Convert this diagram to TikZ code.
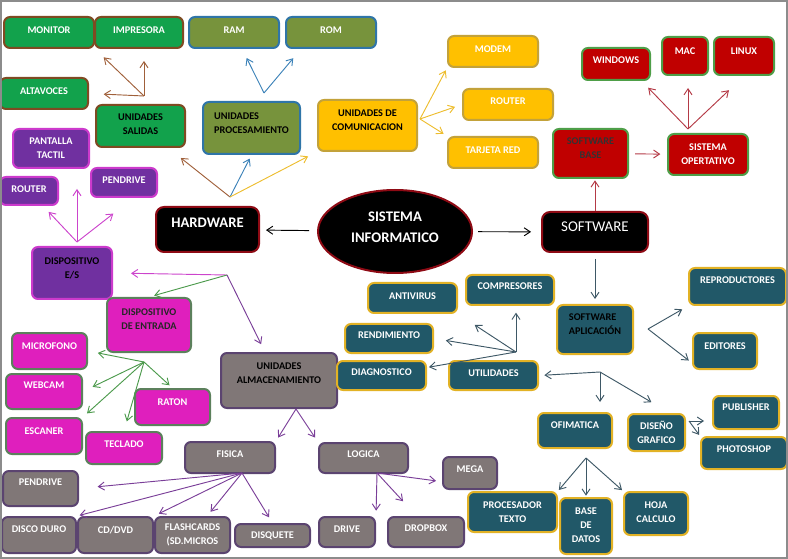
\documentclass[tikz,border=0pt]{standalone}
\usepackage{fontspec}
\setmainfont{Carlito}
\usetikzlibrary{arrows.meta,shapes.geometric}
% box fills and borders
\definecolor{mGreen}{HTML}{12A24C}
\definecolor{mBrown}{HTML}{7F4A22}
\definecolor{mOlive}{HTML}{77933C}
\definecolor{mSteel}{HTML}{2F75A8}
\definecolor{mGold}{HTML}{FFC000}
\definecolor{mGoldBd}{HTML}{C3A23A}
\definecolor{mRed}{HTML}{C00000}
\definecolor{mLeaf}{HTML}{4E9E48}
\definecolor{mWine}{HTML}{8E0A14}
\definecolor{mPurple}{HTML}{7030A0}
\definecolor{mOrchid}{HTML}{CC3ACC}
\definecolor{mPink}{HTML}{DF1FBD}
\definecolor{mSage}{HTML}{5C805C}
\definecolor{mTeal}{HTML}{215868}
\definecolor{mAmber}{HTML}{E2B225}
\definecolor{mStone}{HTML}{807777}
\definecolor{mPlum}{HTML}{5B4470}
\definecolor{mFrame}{HTML}{8C8C8C}
% connector colours
\definecolor{aBrown}{HTML}{A0603A}
\definecolor{aBlue}{HTML}{3C82B8}
\definecolor{aYellow}{HTML}{EDBD2E}
\definecolor{aRed}{HTML}{B43A46}
\definecolor{aSlate}{HTML}{3E5866}
\definecolor{aOrchid}{HTML}{CC44CC}
\definecolor{aGreen}{HTML}{4C9A4C}
\definecolor{aPurple}{HTML}{7A3E98}

\begin{document}
\begin{tikzpicture}[x=0.75pt,y=-0.75pt,>={Straight Barb[length=4.5pt,width=6pt]},
  box/.style={draw, rounded corners=4.5pt, line width=1.5pt, inner sep=0pt, align=center,
              font=\bfseries\fontsize{7.7}{10.5}\selectfont, text=white},
  sz/.style 2 args={minimum width=#1*0.75pt, minimum height=#2*0.75pt},
  lift/.style={text depth=#1},
  outbox/.style={box, fill=mGreen, draw=mBrown},
  cpubox/.style={box, fill=mOlive, draw=mSteel},
  netbox/.style={box, fill=mGold, draw=mGoldBd},
  osbox/.style={box, fill=mRed, draw=mLeaf},
  iobox/.style={box, fill=mPurple, draw=mOrchid},
  inbox/.style={box, fill=mPink, draw=mSage},
  storebox/.style={box, fill=mStone, draw=mPlum},
  appbox/.style={box, fill=mTeal, draw=mAmber},
  mainbox/.style={box, fill=black, draw=mWine, rounded corners=6pt},
  arr/.style={->, line width=0.7pt}]
  \useasboundingbox (0,0) rectangle (788,559);

  % centre
  \node[ellipse, draw=mWine, fill=black, line width=1.5pt, sz={154}{83}, inner sep=0pt,
        align=center, text=white, font=\bfseries\fontsize{11}{16}\selectfont,
        text depth=6.75pt] (sistema) at (395,231.5) {SISTEMA\\INFORMATICO};
  \node[mainbox, sz={103}{45}, lift=9.75pt, font=\bfseries\fontsize{11}{13}\selectfont]
        (hardware) at (207.5,229.5) {HARDWARE};
  \node[mainbox, sz={106}{40}, lift=7.5pt, font=\fontsize{11.2}{13}\selectfont]
        (software) at (595,232) {SOFTWARE};

  % output units
  \node[outbox, sz={90}{31}, lift=3.75pt] (monitor) at (49,32.5) {MONITOR};
  \node[outbox, sz={88}{31}, lift=3.75pt] (impresora) at (139,32.5) {IMPRESORA};
  \node[outbox, sz={88}{31}, lift=3.75pt] (altavoces) at (44,93.5) {ALTAVOCES};
  \node[outbox, sz={89}{42}, lift=3.5pt, text=black] (salidas) at (140.5,126) {UNIDADES\\SALIDAS};

  % processing units
  \node[cpubox, sz={90}{31}, lift=3.75pt] (ram) at (234,32.5) {RAM};
  \node[cpubox, sz={90}{31}, lift=3.75pt] (rom) at (331,32.5) {ROM};
  \node[cpubox, sz={97}{52}, lift=7.5pt, text=black, align=left] (proces) at (251.5,128) {UNIDADES\\PROCESAMIENTO};

  % communication units
  \node[netbox, sz={99}{51}, lift=8.25pt, text=black] (comunic) at (367.5,125.5) {UNIDADES DE\\COMUNICACION};
  \node[netbox, sz={90}{31}, lift=3.75pt] (modem) at (493,51.5) {MODEM};
  \node[netbox, sz={90}{31}, lift=5.25pt] (routerb) at (508,104.5) {ROUTER};
  \node[netbox, sz={90}{31}, lift=3.75pt] (tarjeta) at (493,152.5) {TARJETA RED};

  % base software
  \node[osbox, sz={68}{32}, lift=6pt] (windows) at (616,64) {WINDOWS};
  \node[osbox, sz={46}{38}, lift=7.5pt] (mac) at (685,56) {MAC};
  \node[osbox, sz={60}{38}, lift=7.5pt] (linux) at (744,56) {LINUX};
  \node[osbox, sz={75}{49}, lift=7.5pt, text=black!80] (swbase) at (590.5,153.5) {SOFTWARE\\BASE};
  \node[osbox, sz={80}{41}] (sisop) at (708,154.5) {SISTEMA\\OPERTATIVO};

  % in/out devices
  \node[iobox, sz={76}{39}] (pantalla) at (51,148.5) {PANTALLA\\TACTIL};
  \node[iobox, sz={66}{29}, lift=3.75pt] (pendrivea) at (124,182.5) {PENDRIVE};
  \node[iobox, sz={58}{28}, lift=3pt] (routera) at (29,191) {ROUTER};
  \node[iobox, sz={80}{52}, lift=7pt, text=black] (dispes) at (72,273) {DISPOSITIVO\\E/S};

  % input devices
  \node[inbox, sz={84}{54}, lift=9pt, text=black!85] (dispent) at (149,325) {DISPOSITIVO\\DE ENTRADA};
  \node[inbox, sz={75}{36}, lift=7.5pt] (microfono) at (49.5,351) {MICROFONO};
  \node[inbox, sz={76}{35}, lift=9pt] (webcam) at (44,391.5) {WEBCAM};
  \node[inbox, sz={76}{36}, lift=7.5pt] (escaner) at (44,436) {ESCANER};
  \node[inbox, sz={75}{36}, lift=7.5pt] (raton) at (172.5,407) {RATON};
  \node[inbox, sz={76}{32}, lift=6pt] (teclado) at (124,448) {TECLADO};

  % storage units
  \node[storebox, sz={116}{55}, lift=10.5pt, text=black] (almac) at (279,380.5) {UNIDADES\\ALMACENAMIENTO};
  \node[storebox, sz={90}{31}, lift=5.25pt] (fisica) at (230,457.5) {FISICA};
  \node[storebox, sz={89}{30}, lift=6pt] (logica) at (363.5,458) {LOGICA};
  \node[storebox, sz={75}{35}, lift=9pt] (pendriveb) at (40.5,488.5) {PENDRIVE};
  \node[storebox, sz={74}{36}, lift=9pt] (discoduro) at (39,535) {DISCO DURO};
  \node[storebox, sz={75}{36}, lift=7.5pt] (cddvd) at (115.5,535) {CD/DVD};
  \node[storebox, sz={75}{36}] (flash) at (192.5,535) {FLASHCARDS\\(SD.MICROS};
  \node[storebox, sz={75}{23}] (disquete) at (272.5,535.5) {DISQUETE};
  \node[storebox, sz={56}{30}, lift=4.5pt] (drive) at (347,532) {DRIVE};
  \node[storebox, sz={76}{30}, lift=6pt] (dropbox) at (426,532) {DROPBOX};
  \node[storebox, sz={54}{32}, lift=6pt] (mega) at (470,473) {MEGA};

  % application software
  \node[appbox, sz={88}{30}, lift=6pt] (compresores) at (510,290) {COMPRESORES};
  \node[appbox, sz={89}{30}, lift=3pt] (antivirus) at (412.5,298) {ANTIVIRUS};
  \node[appbox, sz={88}{29}, lift=4.5pt] (rendimiento) at (389,338.5) {RENDIMIENTO};
  \node[appbox, sz={89}{29}, lift=4.5pt] (diagnostico) at (381.5,375.5) {DIAGNOSTICO};
  \node[appbox, sz={89}{29}, lift=3.75pt] (utilidades) at (493.5,375.5) {UTILIDADES};
  \node[appbox, sz={76}{49}, lift=7.5pt, text=black, align=left] (swaplic) at (595,329.5) {SOFTWARE\\APLICACIÓN};
  \node[appbox, sz={97}{37}, lift=9.75pt] (reproductores) at (737.5,286.5) {REPRODUCTORES};
  \node[appbox, sz={64}{36}, lift=6.75pt] (editores) at (725,351) {EDITORES};
  \node[appbox, sz={74}{35}, lift=7.5pt] (ofimatica) at (575,430.5) {OFIMATICA};
  \node[appbox, sz={57}{37}] (diseno) at (656.5,432.5) {DISEÑO\\GRAFICO};
  \node[appbox, sz={66}{33}, lift=7.5pt] (publisher) at (746,412.5) {PUBLISHER};
  \node[appbox, sz={86}{32}, lift=6pt] (photoshop) at (744,453) {PHOTOSHOP};
  \node[appbox, sz={89}{40}] (procesador) at (512.5,512) {PROCESADOR\\TEXTO};
  \node[appbox, sz={52}{56}, lift=1.5pt] (basedatos) at (586,526) {BASE\\DE\\DATOS};
  \node[appbox, sz={64}{43}, lift=2.25pt] (hoja) at (656,513.5) {HOJA\\CALCULO};

  % branch points of the arrow fans
  \coordinate (salb) at (144,96);
  \coordinate (procb) at (264,93);
  \coordinate (comb) at (420,119);
  \coordinate (hwtop) at (230,197);
  \coordinate (hwbot) at (227,275);
  \coordinate (esb) at (77,242);
  \coordinate (entb) at (144,362);
  \coordinate (almb) at (296,409);
  \coordinate (fisb) at (242,473);
  \coordinate (logb) at (377,473);
  \coordinate (sob) at (688,129);
  \coordinate (sab) at (648,329);
  \coordinate (utb) at (516,352);
  \coordinate (apb) at (600,372);
  \coordinate (dgb) at (689,421);
  \coordinate (ofb) at (586,458);

  % hardware
  \draw[arr, shorten <=6pt, shorten >=4.5pt] (sistema) -- (hardware);
  \draw[arr, aBrown, shorten >=12pt] (hwtop) -- (salidas);
  \draw[arr, aBlue, shorten >=3pt] (hwtop) -- (proces.south);
  \draw[arr, aYellow, shorten >=7.5pt] (hwtop) -- (comunic);
  \draw[arr, aBrown, shorten >=9pt] (salb) -- (monitor.south east);
  \draw[arr, aBrown, shorten >=9pt] (salb) -- (salb |- impresora.south);
  \draw[arr, aBrown, shorten >=11pt] (salb) -- (altavoces.east);
  \draw[arr, aBlue, shorten >=7.5pt] (procb) -- (ram);
  \draw[arr, aBlue, shorten >=9pt] (procb) -- ([xshift=12pt]rom.south west);
  \draw[arr, aYellow, shorten >=2pt] (comb) -- (modem.south west);
  \draw[arr, aYellow, shorten >=5.5pt] (comb) -- (routerb.west);
  \draw[arr, aYellow, shorten >=3pt] (comb) -- (tarjeta.north west);

  \draw[arr, aOrchid, shorten >=13.5pt] (hwbot) -- (dispes.east);
  \draw[arr, aGreen, shorten >=4pt] (hwbot) -- (dispent.north);
  \draw[arr, aPurple, shorten >=6.5pt] (hwbot) -- (almac);
  \draw[arr, aOrchid, shorten >=6pt] (esb) -- (routera);
  \draw[arr, aOrchid, shorten >=15pt] (esb) -- (esb |- pantalla.south);
  \draw[arr, aOrchid, shorten >=19pt] (esb) -- ([xshift=7pt]pendrivea.south);
  \draw[arr, aGreen, shorten >=7.5pt] (entb) -- (microfono.east);
  \draw[arr, aGreen, shorten >=8pt] (entb) -- (webcam.east);
  \draw[arr, aGreen, shorten >=4pt] (entb) -- (escaner.north east);
  \draw[arr, aGreen, shorten >=7.5pt] (entb) -- (teclado.north);
  \draw[arr, aGreen, shorten >=3pt] (entb) -- (raton.north);

  \draw[arr, aPurple, shorten >=3pt] (almb) -- (fisica.north east);
  \draw[arr, aPurple, shorten >=4pt] (almb) -- (logica.north west);
  \draw[arr, aPurple, shorten >=14pt] (fisb) -- (pendriveb.east);
  \draw[arr, aPurple, shorten >=2pt] (fisb) -- (discoduro.north east);
  \draw[arr, aPurple, shorten >=4pt] (fisb) -- (cddvd.north east);
  \draw[arr, aPurple, shorten >=4pt] (fisb) -- ([xshift=11pt]flash.north);
  \draw[arr, aPurple, shorten >=5pt] (fisb) -- (disquete.north);
  \draw[arr, aPurple, shorten >=4pt] (logb) -- (drive.north east);
  \draw[arr, aPurple, shorten >=15pt] (logb) -- ([xshift=-7pt]dropbox.north);
  \draw[arr, aPurple, shorten >=4.5pt] (logb) -- ([yshift=-6.5pt]mega.west);

  % software
  \draw[arr, shorten <=3.75pt, shorten >=7.5pt] (sistema) -- (software);
  \draw[arr, aRed, shorten >=1pt] (software.north) -- (software.north |- swbase.south);
  \draw[arr, aRed, shorten <=4.5pt, shorten >=5pt] (swbase) -- (sisop);
  \draw[arr, aRed, shorten >=7pt] (sob) -- ([xshift=-7pt]windows.south east);
  \draw[arr, aRed, shorten >=9pt] (sob) -- (sob |- mac.south);
  \draw[arr, aRed, shorten >=15.5pt] (sob) -- (linux.south);

  \draw[arr, aSlate, shorten <=4.5pt, shorten >=3.75pt] (software.south) -- (software.south |- swaplic.north);
  \draw[arr, aSlate, shorten >=5pt] (sab) -- (reproductores.south west);
  \draw[arr, aSlate, shorten >=3pt] (sab) -- ([yshift=-9pt]editores.west);
  \draw[arr, aSlate, shorten >=5pt] (utb) -- (utb |- compresores.south);
  \draw[arr, aSlate, shorten >=15pt] (utb) -- (antivirus.south east);
  \draw[arr, aSlate, shorten >=9pt] (utb) -- (rendimiento.east);
  \draw[arr, aSlate, shorten >=1.5pt] (utb) -- ([yshift=6pt]diagnostico.east);
  \draw[arr, aSlate, shorten >=4pt] (apb) -- (utilidades.east);
  \draw[arr, aSlate, shorten >=7.5pt] (apb) -- (apb |- ofimatica.north);
  \draw[arr, aSlate, shorten >=16pt] (apb) -- ([xshift=10pt]diseno.north);
  \draw[arr, aSlate, shorten >=6pt] (dgb) -- (dgb -| publisher.west);
  \draw[arr, aSlate, shorten >=1pt] (dgb) -- (photoshop.north west);
  \draw[arr, aSlate, shorten >=1pt] (ofb) -- (procesador.north east);
  \draw[arr, aSlate, shorten >=1pt] (ofb) -- (ofb |- basedatos.north);
  \draw[arr, aSlate, shorten >=1pt] (ofb) -- (hoja.north west);

  % frame
  \draw[mFrame, line width=1.5pt] (1,1) rectangle (787,558);
\end{tikzpicture}
\end{document}
